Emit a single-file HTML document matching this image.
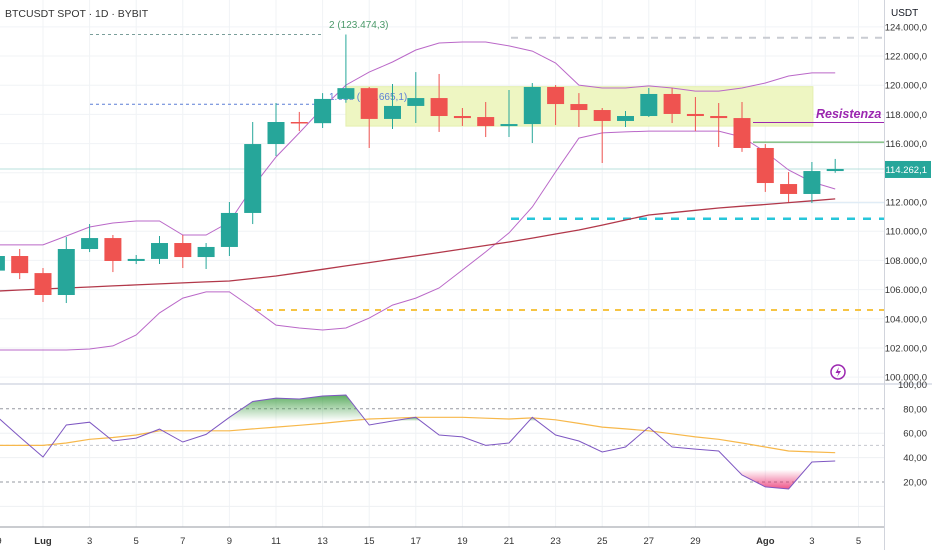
<!DOCTYPE html>
<html><head><meta charset="utf-8">
<style>
html,body{margin:0;padding:0;background:#fff;}
svg{display:block;font-family:"Liberation Sans",sans-serif;}
</style></head>
<body>
<svg id="chart" width="932" height="550" viewBox="0 0 932 550">
  <defs>
    <linearGradient id="gGreen" x1="0" y1="0" x2="0" y2="1">
      <stop offset="0" stop-color="#43a047" stop-opacity="0.85"/>
      <stop offset="1" stop-color="#43a047" stop-opacity="0"/>
    </linearGradient>
    <linearGradient id="gRed" x1="0" y1="1" x2="0" y2="0">
      <stop offset="0" stop-color="#e91e63" stop-opacity="0.75"/>
      <stop offset="1" stop-color="#e91e63" stop-opacity="0"/>
    </linearGradient>
  </defs>
  <g id="grid"></g>
  <g id="drawings"></g>
  <g id="bands"></g>
  <g id="candles"></g>
  <g id="rsi"></g>
  <g id="axes"></g>
</svg>
<script>
// ---- data ----
const dayIdx = [-2,-1,0,1,2,3,4,5,6,7,8,9,10,11,12,13,14,15,16,17,18,19,20,21,22,23,24,25,26,27,28,29,30,31,32,33,34];
const opens  = [107300,108300,107130,105630,108780,109530,107960,108100,109190,108230,108920,111250,115970,117480,117400,119060,119800,117690,118580,119120,117890,117820,117200,117340,119880,118710,118300,117550,117890,119400,118030,117890,117750,115700,113230,112550,114120];
const highs  = [108600,108780,107480,109600,110490,109740,108370,109670,109740,109190,112000,117480,118780,118170,119460,123474,119880,120080,120900,120770,118440,118850,119670,120150,120010,119460,118440,118230,119810,119810,119190,118780,118850,115970,114050,114740,114950];
const lows   = [107000,106720,105150,105080,108570,107200,107750,107750,107480,107410,108300,110490,115150,116860,117070,118800,115700,117000,117410,116800,117210,116450,116450,116040,117270,117140,114670,117140,117820,117410,116860,115770,115430,112690,112000,111930,114000];
const closes = [108300,107130,105630,108780,109530,107960,108100,109190,108230,108920,111250,115970,117480,117400,119060,119800,117690,118580,119120,117890,117750,117200,117340,119880,118710,118300,117550,117890,119400,118030,117890,117750,115700,113300,112550,114120,114262];
const bbUpper = [109060,109060,109060,109670,110290,110560,110700,110700,109740,109740,110630,113030,115080,116730,118440,120010,120900,121590,122410,122890,122960,122960,122690,122340,121520,120010,119810,119810,119950,119810,119600,119600,119810,120150,120630,120840,120840];
const bbLower = [101860,101860,101860,101860,101930,102140,102890,104400,105420,105840,105840,104740,103570,103370,103230,103370,104050,104940,105420,106110,107340,108580,109880,111660,114060,116380,116730,116800,116860,116860,116860,116860,116450,115430,114190,113370,112890];
const maLine = [105900,105970,106040,106110,106180,106250,106320,106390,106460,106530,106590,106760,106930,107160,107390,107620,107850,108080,108310,108540,108780,109020,109260,109530,109810,110080,110420,110770,111110,111270,111430,111590,111710,111830,111960,112080,112210];
const rsiVals = [74,57,40.5,66.7,69,53.6,56,63.4,52.8,59,73,86,88.8,88,90.5,91.3,66.7,70,73,58.5,57,50,52,73,58.5,53.6,44.6,48.7,65,48.7,47,45.4,25.7,16,14.3,36.4,37.2];
const rsiMa = [50,50,50,52,55,56.5,58.5,62,62,62,62,63.5,65,66.5,68,70,71.6,72.3,73,73,73,72.3,71.6,72.5,71,68,65,63.5,62,59.5,57,55,52,48.7,45.4,44.7,44];
const priceTicks = [124000,122000,120000,118000,116000,114000,112000,110000,108000,106000,104000,102000,100000];
const rsiTicks = [100,80,60,40,20];
const dateTickIdx = [-2,0,2,4,6,8,10,12,14,16,18,20,22,24,26,28,31,33,35];
const dateTickLbl = ["29","Lug","3","5","7","9","11","13","15","17","19","21","23","25","27","29","Ago","3","5"];
const lastPrice = 114262.1;

// ---- scales ----
const X = i => 43 + 23.3*i;
const YP = p => 202 - (p-112000)/68.5;
const YR = v => 482 - (v-20)*1.22;
const NS = "http://www.w3.org/2000/svg";
function mk(tag, parent, attrs){ const e=document.createElementNS(NS,tag); for(const k in attrs) e.setAttribute(k,attrs[k]); parent.appendChild(e); return e; }
const fmtP = p => { const s=Math.floor(p).toString(); const d=(Math.round((p%1)*10)%10); return s.replace(/\B(?=(\d{3})+(?!\d))/g,".")+","+d; };

const grid=document.getElementById('grid'), dr=document.getElementById('drawings'), bands=document.getElementById('bands'),
      cg=document.getElementById('candles'), rg=document.getElementById('rsi'), ax=document.getElementById('axes');

// grid
dateTickIdx.forEach(i=>{ const l=mk('line',grid,{x1:X(i),x2:X(i),y1:0,y2:527,stroke:'#f0f3f6','stroke-width':1});
    });
priceTicks.forEach(p=>{ const l=mk('line',grid,{x1:0,x2:884,y1:YP(p),y2:YP(p),stroke:'#f0f3f6','stroke-width':1});
    });
[60,40,0].forEach(v=>{ const l=mk('line',grid,{x1:0,x2:884,y1:YR(v),y2:YR(v),stroke:'#eef0f3','stroke-width':1});
    });

// drawings
function hline(y,x1,x2,color,w,dash,name){ const l=mk('line',dr,{x1:x1,x2:x2,y1:y,y2:y,stroke:color,'stroke-width':w}); if(dash) l.setAttribute('stroke-dasharray',dash);
    return l; }
const box=mk('rect',dr,{x:X(13),y:YP(119900),width:X(33)+1-X(13),height:YP(117200)-YP(119900),fill:'#eef6c2',stroke:'#e4efb0','stroke-width':1});
 
hline(YP(123474),90,323,'#7a9e9a',1,'3 3','fib-2-level');
hline(YP(118700),90,330,'#5c7fd6',1,'3 3','fib-1618-level');
hline(YP(123250),511,884,'#c9ccd2',2,'7 7','upper-dashed-level');
hline(YP(117450),753,884,'#9c27b0',1,null,'resistance-line');
hline(YP(116100),753,884,'#43a047',1,null,'support-line-green');
hline(YP(lastPrice),0,884,'#b9e2de',1,null,'last-price-line');
hline(YP(111950),745,884,'#dbeaf5',1,null,'faint-level');
hline(YP(110850),511,884,'#26c6da',2.5,'8 8','cyan-dashed-level');
hline(YP(104600),255,884,'#f6c443',2,'6 6','orange-dashed-level');
let t=mk('text',dr,{x:329,y:28,fill:'#4c9a6a','font-size':10}); t.textContent='2 (123.474,3)';
 
t=mk('text',dr,{x:329,y:100,fill:'#5c7fd6','font-size':10}); t.textContent='1.618 (118.665,1)';
 

// bands
function pathOf(arr, yf){ return arr.map((v,k)=>(k?'L':'M')+X(dayIdx[k]).toFixed(1)+' '+yf(v).toFixed(1)).join(' '); }
let p=mk('path',bands,{d:pathOf(bbUpper,YP),fill:'none',stroke:'#ba68c8','stroke-width':1});
 
p=mk('path',bands,{d:pathOf(bbLower,YP),fill:'none',stroke:'#ba68c8','stroke-width':1});
 
p=mk('path',bands,{d:pathOf(maLine,YP),fill:'none',stroke:'#b2384a','stroke-width':1.3});
 

// candles
dayIdx.forEach((d,k)=>{
  const up = closes[k]>=opens[k], col = up?'#26a69a':'#ef5350', x=X(d);
  const g=mk('g',cg,{});
   
  mk('line',g,{x1:x,x2:x,y1:YP(highs[k]),y2:YP(lows[k]),stroke:col,'stroke-width':1});
  const top=YP(Math.max(opens[k],closes[k])), bot=YP(Math.min(opens[k],closes[k]));
  mk('rect',g,{x:x-8.5,y:top,width:17,height:Math.max(1.5,bot-top),fill:col});
});
t=mk('text',dr,{x:816,y:118,fill:'#9c27b0','font-size':12.5,'font-style':'italic','font-weight':'bold'}); t.textContent='Resistenza';
 

// RSI
[[80,'#9598a1'],[50,'#c5c8ce'],[20,'#9598a1']].forEach(([v,c])=>{ const l=mk('line',rg,{x1:0,x2:884,y1:YR(v),y2:YR(v),stroke:c,'stroke-width':1,'stroke-dasharray':'3 3'});
    });
function zoneFill(level, above, fill, name){
  let pts=[], out=[];
  for(let k=0;k<rsiVals.length;k++){
    const v=rsiVals[k], inside = above ? v>level : v<level;
    if(k>0){ const pv=rsiVals[k-1], pin= above? pv>level : pv<level;
      if(pin!==inside){ const f=(level-pv)/(v-pv); const xc=X(dayIdx[k-1])+f*(X(dayIdx[k])-X(dayIdx[k-1])); pts.push([xc,YR(level)]); if(!inside){out.push(pts);pts=[];} } }
    if(inside) pts.push([X(dayIdx[k]),YR(v)]);
  }
  if(pts.length) { pts.push([pts[pts.length-1][0],YR(level)]); out.push(pts); }
  out.forEach(s=>{ const e=mk('polygon',rg,{points:s.map(q=>q[0].toFixed(1)+','+q[1].toFixed(1)).join(' '),fill:fill});
      });
}
zoneFill(70,true,'url(#gGreen)','rsi-overbought-fill');
zoneFill(30,false,'url(#gRed)','rsi-oversold-fill');
p=mk('path',rg,{d:pathOf(rsiMa,YR),fill:'none',stroke:'#f7b84b','stroke-width':1.2});
 
p=mk('path',rg,{d:pathOf(rsiVals,YR),fill:'none',stroke:'#7e57c2','stroke-width':1});
 

// axes
let l=mk('line',ax,{x1:0,x2:932,y1:384,y2:384,stroke:'#e0e3eb','stroke-width':2});
 
l=mk('line',ax,{x1:884.5,x2:884.5,y1:0,y2:550,stroke:'#d1d4dc','stroke-width':1});
 
l=mk('line',ax,{x1:0,x2:884,y1:527,y2:527,stroke:'#9598a1','stroke-width':1});
 
priceTicks.forEach(v=>{ const e=mk('text',ax,{x:927,y:YP(v)+3.5,'text-anchor':'end','font-size':9.5,fill:'#333'}); e.textContent=fmtP(v);
    });
rsiTicks.forEach(v=>{ const e=mk('text',ax,{x:927,y:YR(v)+3.5,'text-anchor':'end','font-size':9.5,fill:'#333'}); e.textContent=v+',00';
    });
let hb=mk('rect',ax,{x:886,y:0,width:46,height:22,fill:'#fff'});  
t=mk('text',ax,{x:891,y:16,'font-size':10,fill:'#131722'}); t.textContent='USDT';
 
const pb=mk('rect',ax,{x:885,y:YP(lastPrice)-8,width:46,height:17,fill:'#26a69a'});
 
t=mk('text',ax,{x:927,y:YP(lastPrice)+4,'text-anchor':'end','font-size':9.5,fill:'#fff'}); t.textContent=fmtP(lastPrice);
 
dateTickIdx.forEach((d,k)=>{ const bold=isNaN(+dateTickLbl[k]); const e=mk('text',ax,{x:X(d),y:544,'text-anchor':'middle','font-size':9.5,fill:'#333','font-weight':bold?'bold':'normal'}); e.textContent=dateTickLbl[k];
    });
t=mk('text',ax,{x:5,y:17,'font-size':10.5,fill:'#333'}); t.textContent='BTCUSDT SPOT · 1D · BYBIT';
 
const ic=mk('g',ax,{});  
mk('circle',ic,{cx:838,cy:372,r:7,fill:'none',stroke:'#9c27b0','stroke-width':1.5});
mk('path',ic,{d:'M839 367 L835.5 373 L838.5 373 L837 377 L841 371 L838 371 Z',fill:'#9c27b0'});
</script>
</body></html>
